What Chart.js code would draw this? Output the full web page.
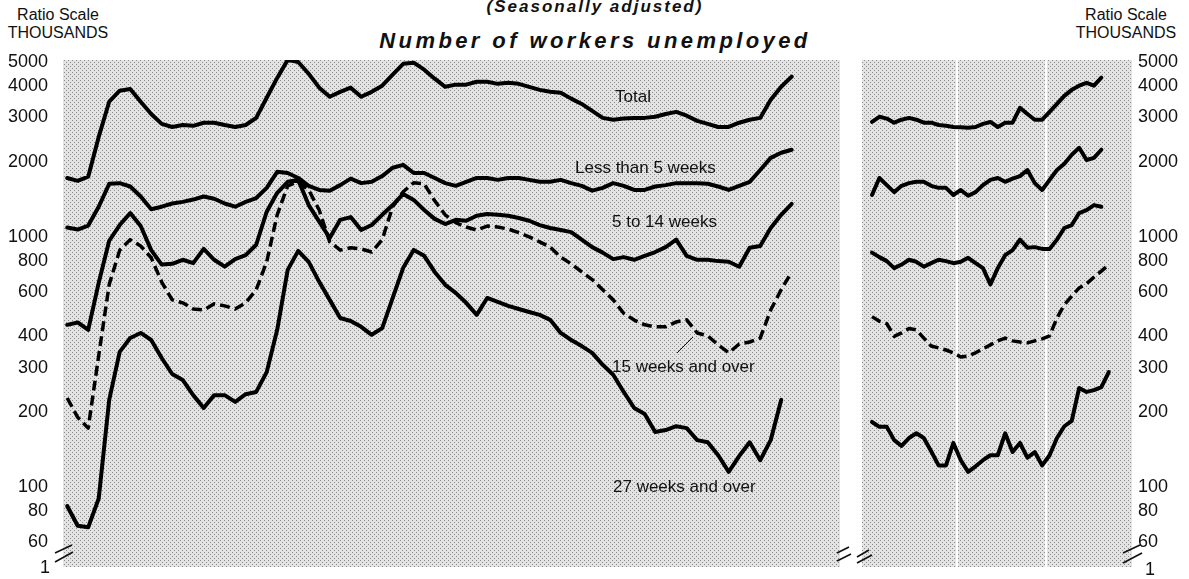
<!DOCTYPE html>
<html>
<head>
<meta charset="utf-8">
<script src="https://cdn.jsdelivr.net/npm/chart.js@4.4.1/dist/chart.umd.min.js"></script>
<style>
  body { margin: 0; background: #fff; width: 1189px; height: 579px; position: relative; overflow: hidden;
         font-family: "Liberation Sans", Arial, sans-serif; color: #111; }
  canvas { position: absolute; top: 0; }
  #left { left: 0; }
  #right { left: 852px; }
  .hd { position: absolute; text-align: center; font-size: 16px; line-height: 18px; }
  .ttl { position: absolute; text-align: center; font-weight: bold; font-style: italic; white-space: nowrap; }
</style>
</head>
<body>
<div class="hd" style="left:0; top:6px; width:116px;">Ratio Scale<br>THOUSANDS</div>
<div class="hd" style="left:1063px; top:6px; width:126px;">Ratio Scale<br>THOUSANDS</div>
<div class="ttl" style="left:395px; top:-3px; width:400px; font-size:17px; letter-spacing:2px;">(Seasonally adjusted)</div>
<div class="ttl" style="left:345px; top:28px; width:500px; font-size:22px; letter-spacing:3.4px;">Number of workers unemployed</div>
<canvas id="left" width="852" height="579"></canvas>
<canvas id="right" width="337" height="579"></canvas>
<script>
// ratio scale ticks (thousands)
const tickValues = [60, 80, 100, 200, 300, 400, 600, 800, 1000, 2000, 3000, 4000, 5000];

// left panel: quarterly, 1953 Q2 - 1970 Q3
const leftQuarters = Array.from({ length: 70 }, (_, i) => `${1953 + Math.floor((i + 1) / 4)} Q${(i + 1) % 4 + 1}`);
const leftTotal = [1720,1675,1740,2510,3470,3840,3900,3470,3100,2830, 2750,2800,2780,2860,2860,2800,2750,2800,2990,3600,
  4320,5100,5000,4490,3950,3630,3800,3950,3630,3800, 4020,4450,4920,4970,4660,4290,3980,4060,4060,4170,
  4170,4090,4130,4090,3980,3870,3800,3770,3570,3400, 3190,2990,2940,2970,2990,2990,3020,3100,3160,3050,
  2910,2830,2750,2750,2860,2940,2990,3530,3980,4370];
const leftUnder5 = [1090,1070,1110,1320,1630,1640,1590,1450,1290,1320, 1360,1380,1410,1450,1420,1360,1320,1380,1430,1570,
  1820,1800,1720,1600,1540,1530,1610,1710,1640,1660, 1750,1890,1940,1800,1800,1720,1640,1600,1660,1720,
  1720,1690,1720,1720,1690,1660,1660,1690,1640,1600, 1530,1570,1640,1600,1540,1540,1590,1610,1640,1640,
  1640,1630,1590,1540,1600,1660,1850,2070,2170,2230];
const left5to14 = [445,455,425,655,965,1115,1245,1105,885,775, 780,810,785,895,810,760,815,845,930,1260,
  1500,1660,1690,1340,1150,990,1170,1200,1065,1115, 1225,1340,1485,1405,1280,1180,1125,1170,1160,1215,
  1235,1225,1215,1190,1160,1115,1085,1065,1045,975, 910,865,815,830,810,840,870,910,975,840,
  810,810,800,795,760,905,920,1085,1225,1355];
const left15plus = [227,190,172,335,645,885,975,920,825,660, 560,545,515,510,540,530,515,545,615,795,
  1225,1600,1660,1540,1280,955,885,905,895,870, 975,1320,1515,1645,1630,1395,1225,1140,1095,1065,
  1105,1095,1075,1040,1000,955,910,830,780,725, 675,615,560,495,465,445,437,437,457,466,
  413,402,370,344,373,380,394,510,615,725];
const left27plus = [84,70,69,90,223,347,394,413,387,328, 283,268,233,207,233,233,219,235,240,288,
  425,738,879,794,661,560,474,461,437,406, 432,570,752,887,840,724,643,597,545,488,
  570,550,530,515,501,488,466,413,387,366, 344,308,281,240,207,196,166,169,175,172,
  154,151,134,115,133,151,128,154,223,null];

// right panel: monthly, Jan 1968 - Sep 1970
const rightMonths = Array.from({ length: 33 }, (_, i) => `${1968 + Math.floor(i / 12)}-${String(i % 12 + 1).padStart(2, '0')}`);
const rightTotal = [2880,3020,2970,2860,2940,2990,2940,2860,2860,2800,2780,2750, 2740,2730,2750,2830,2880,2750,2860,2860,3280,3100,2940,2940,
  3160,3400,3660,3870,4020,4130,4020,4330,null];
const rightUnder5 = [1470,1720,1610,1510,1600,1640,1660,1660,1600,1570,1570,1470, 1540,1460,1510,1610,1690,1720,1660,1710,1750,1850,1640,1540,
  1690,1850,1960,2130,2270,2030,2070,2230,null];
const right5to14 = [865,830,800,750,775,810,795,760,785,810,800,785, 795,825,785,750,645,750,845,885,975,905,910,895,
  895,975,1085,1115,1245,1280,1340,1320,null];
const right15plus = [480,460,450,400,413,430,425,394,366,360,353,344, 331,334,344,357,370,384,394,384,380,377,384,391,
  402,474,535,580,625,650,690,730,775];
const right27plus = [182,174,174,154,146,157,164,157,139,122,122,150, 128,115,121,128,134,134,164,138,150,131,138,122,
  134,157,175,184,249,240,244,251,288];

const FONT = '"Liberation Sans", Arial, sans-serif';
const INK = '#000';

function series(label, values, dashed) {
  return {
    label,
    data: values.map((v, i) => ({ x: i, y: v })),
    borderColor: INK,
    borderWidth: dashed ? 3.5 : 4,
    borderDash: dashed ? [10, 5] : [],
    borderJoinStyle: 'round',
    borderCapStyle: dashed ? 'butt' : 'round',
    pointRadius: 0,
    tension: 0,
    spanGaps: false
  };
}

function stipple(ctx) {
  const c = document.createElement('canvas');
  c.width = 4; c.height = 4;
  const p = c.getContext('2d');
  p.fillStyle = '#e3e3e3';
  p.fillRect(0, 0, 4, 4);
  p.fillStyle = '#8c8c8c';
  p.fillRect(0, 0, 1, 1);
  p.fillRect(2, 2, 1, 1);
  return ctx.createPattern(c, 'repeat');
}

const panelBackground = {
  id: 'panelBackground',
  beforeDatasetsDraw(chart, args, opts) {
    const { ctx, chartArea: a, scales } = chart;
    ctx.save();
    ctx.fillStyle = stipple(ctx);
    ctx.fillRect(a.left, a.top, a.right - a.left, a.bottom - a.top);
    ctx.strokeStyle = '#fff';
    ctx.lineWidth = 2;
    (opts.dividers || []).forEach(v => {
      const x = Math.round(scales.x.getPixelForValue(v));
      ctx.beginPath();
      ctx.moveTo(x, a.top);
      ctx.lineTo(x, a.bottom);
      ctx.stroke();
    });
    ctx.restore();
  },
  afterDraw(chart, args, opts) {
    const ctx = chart.ctx;
    ctx.save();
    ctx.fillStyle = '#111';
    ctx.strokeStyle = '#111';
    ctx.textBaseline = 'middle';
    ctx.font = '17px ' + FONT;
    (opts.labels || []).forEach(l => {
      ctx.textAlign = 'left';
      ctx.fillText(l.text, l.x, l.y);
    });
    ctx.lineWidth = 1;
    (opts.leaders || []).forEach(s => {
      ctx.beginPath();
      ctx.moveTo(s[0], s[1]);
      ctx.lineTo(s[2], s[3]);
      ctx.stroke();
    });
    ctx.lineWidth = 1.6;
    (opts.breaks || []).forEach(s => {
      ctx.beginPath();
      ctx.moveTo(s[0], s[1]);
      ctx.lineTo(s[2], s[3]);
      ctx.stroke();
    });
    ctx.font = '18px ' + FONT;
    (opts.ones || []).forEach(o => {
      ctx.textAlign = o.align;
      ctx.fillText('1', o.x, o.y);
    });
    ctx.restore();
  }
};

function yAxis(position, width, padding) {
  return {
    type: 'logarithmic',
    position,
    min: 47.9,
    max: 5094,
    afterBuildTicks: s => { s.ticks = tickValues.map(v => ({ value: v })); },
    afterFit: s => { s.width = width; s.paddingTop = 0; s.paddingBottom = 0; },
    grid: { display: false, drawTicks: false },
    border: { display: false },
    ticks: {
      autoSkip: false,
      padding,
      color: '#111',
      font: { size: 18, family: FONT },
      callback: v => String(v)
    }
  };
}

new Chart(document.getElementById('left'), {
  type: 'line',
  data: {
    labels: leftQuarters,
    datasets: [
      series('Total', leftTotal),
      series('Less than 5 weeks', leftUnder5),
      series('5 to 14 weeks', left5to14),
      series('15 weeks and over', left15plus, true),
      series('27 weeks and over', left27plus)
    ]
  },
  options: {
    responsive: false,
    animation: false,
    layout: { padding: { top: 60, bottom: 12, left: 0, right: 12 } },
    plugins: {
      legend: { display: false },
      tooltip: { enabled: false },
      panelBackground: {
        labels: [
          { text: 'Total', x: 615, y: 97 },
          { text: 'Less than 5 weeks', x: 575, y: 168 },
          { text: '5 to 14 weeks', x: 612, y: 222 },
          { text: '15 weeks and over', x: 612, y: 367 },
          { text: '27 weeks and over', x: 613, y: 487 }
        ],
        leaders: [[677, 353, 693, 337]],
        breaks: [[55, 553, 72, 545], [55, 562, 73, 552], [837, 553, 849, 547], [837, 561, 851, 554]],
        ones: [{ x: 50, y: 568, align: 'right' }]
      }
    },
    scales: {
      x: { type: 'linear', min: -0.4, max: 73.6, display: false },
      y: yAxis('left', 63, 15)
    }
  },
  plugins: [panelBackground]
});

new Chart(document.getElementById('right'), {
  type: 'line',
  data: {
    labels: rightMonths,
    datasets: [
      series('Total', rightTotal),
      series('Less than 5 weeks', rightUnder5),
      series('5 to 14 weeks', right5to14),
      series('15 weeks and over', right15plus, true),
      series('27 weeks and over', right27plus)
    ]
  },
  options: {
    responsive: false,
    animation: false,
    layout: { padding: { top: 60, bottom: 12, left: 10, right: 0 } },
    plugins: {
      legend: { display: false },
      tooltip: { enabled: false },
      panelBackground: {
        dividers: [11.5, 23.5],
        breaks: [[5, 557, 17, 550], [5, 563, 20, 555], [271, 553, 288, 545], [271, 563, 290, 553]],
        ones: [{ x: 293, y: 570, align: 'left' }]
      }
    },
    scales: {
      x: { type: 'linear', min: -1.35, max: 35.14, display: false },
      y: yAxis('right', 57, 6)
    }
  },
  plugins: [panelBackground]
});
</script>
</body>
</html>
